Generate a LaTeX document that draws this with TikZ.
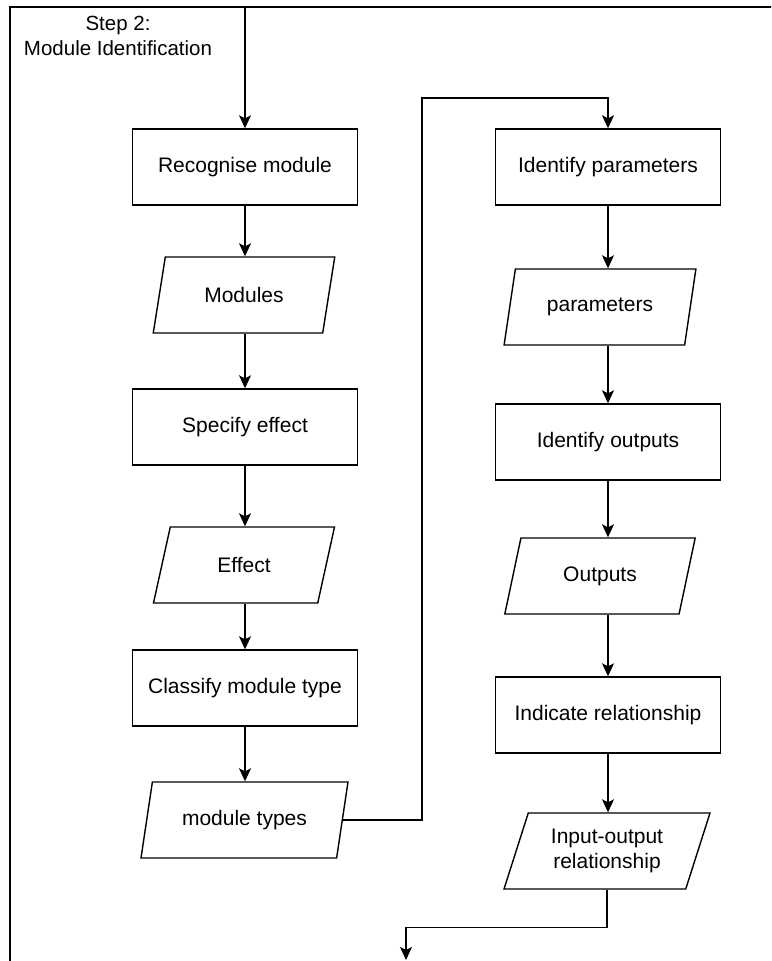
\documentclass[tikz,border=0pt]{standalone}
\usepackage{fontspec}
\setmainfont{Liberation Sans}
\usetikzlibrary{shapes.geometric,arrows.meta}
\begin{document}
\begin{tikzpicture}[x=1pt,y=-1pt,
  every node/.style={font=\fontsize{21}{25}\selectfont, text=black},
  process/.style={draw, line width=1.4pt, fill=white, minimum width=225pt,
    minimum height=76pt, inner sep=0pt, align=center},
  data/.style={draw, line width=1.4pt, fill=white, trapezium,
    trapezium left angle=68.5, trapezium right angle=111.5,
    trapezium stretches=true, minimum height=76pt, inner sep=0pt, align=center},
  flow/.style={line width=1.4pt, -{Stealth[length=13pt,width=12pt,inset=3pt]}},
  frame/.style={line width=1.5pt},
]
\useasboundingbox (0,0) rectangle (771,961);
\clip (0,0) rectangle (771,961);
\fill[white] (0,0) rectangle (771,961);

% enclosing frame of the step
\draw[frame] (10,7) rectangle (800,990);
\node[align=center, font=\fontsize{20.5}{25}\selectfont] (title) at (118,36) {Step 2:\\Module Identification};

% left column
\node[process] (rec) at (245,167) {Recognise module};
\node[data, minimum width=182pt] (mods) at (244,295) {Modules};
\node[process] (spec) at (245,427) {Specify effect};
\node[data, minimum width=182pt] (eff) at (244,565) {Effect};
\node[process] (cls) at (245,688) {Classify module type};
\node[data, minimum width=207pt] (mt) at (244.5,820) {module types};

% right column
\node[process] (idp) at (608,167) {Identify parameters};
\node[data, minimum width=192pt] (par) at (600,307) {parameters};
\node[process] (ido) at (608,442) {Identify outputs};
\node[data, minimum width=192pt] (outs) at (600,576) {Outputs};
\node[process] (ind) at (608,715) {Indicate relationship};
\node[data, minimum width=206pt] (io) at (607,851) {Input-output\\relationship};

% connectors
\coordinate (entry) at (245,7);
\coordinate (loop) at (422,98);
\coordinate (exit) at (406,960);

\draw[flow] (entry) -- (rec.north);
\draw[flow] (rec.south) -- (mods.north -| rec.south);
\draw[flow] (mods.south -| rec.south) -- (spec.north);
\draw[flow] (spec.south) -- (eff.north -| spec.south);
\draw[flow] (eff.south -| spec.south) -- (cls.north);
\draw[flow] (cls.south) -- (mt.north -| cls.south);
\draw[flow] (mt.east) -| (loop) -| (idp.north);

\draw[flow] (idp.south) -- (par.north -| idp.south);
\draw[flow] (par.south -| idp.south) -- (ido.north);
\draw[flow] (ido.south) -- (outs.north -| ido.south);
\draw[flow] (outs.south -| ido.south) -- (ind.north);
\draw[flow] (ind.south) -- (io.north -| ind.south);
\draw[flow] (io.south) -- ++(0,38) -| (exit);
\end{tikzpicture}
\end{document}
